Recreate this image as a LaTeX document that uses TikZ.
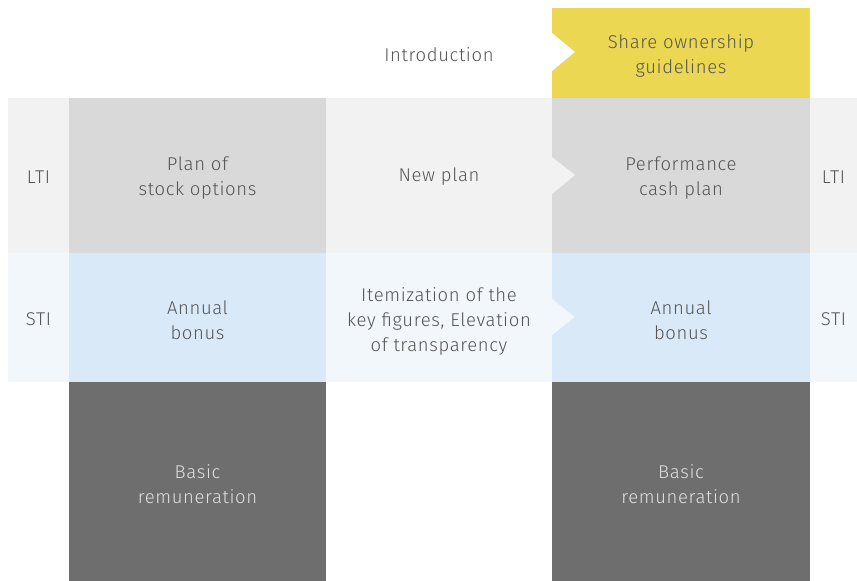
\documentclass[tikz,border=0pt]{standalone}
\usepackage{fontspec}
\setmainfont{Fira Sans}[UprightFont=* Light,LetterSpace=3.5]
\definecolor{ylw}{HTML}{EBD752}
\definecolor{bandgray}{HTML}{F2F2F2}
\definecolor{boxgray}{HTML}{D9D9D9}
\definecolor{bandblue}{HTML}{F2F7FC}
\definecolor{boxblue}{HTML}{DAE9F8}
\definecolor{darkbox}{HTML}{6E6E6E}
\definecolor{txt}{HTML}{555555}
\begin{document}
\begin{tikzpicture}[x=1pt,y=-1pt,
  blk/.style={draw=none,inner sep=0pt,outer sep=0pt,anchor=north west},
  lbl/.style={text=txt,font=\fontsize{18.5}{25}\selectfont,align=center,inner sep=0pt},
  wlbl/.style={lbl,text=white!88!black}]
\useasboundingbox (0,0) rectangle (857,581);
% bands
\fill[bandgray] (8,98) rectangle (857,253);
\fill[bandblue] (8,253) rectangle (857,382);
% boxes
\node[blk,fill=ylw,minimum width=258pt,minimum height=90pt] (sog) at (552,8) {};
\node[blk,fill=boxgray,minimum width=257pt,minimum height=155pt] (ltil) at (69,98) {};
\node[blk,fill=boxgray,minimum width=258pt,minimum height=155pt] (ltir) at (552,98) {};
\node[blk,fill=boxblue,minimum width=257pt,minimum height=129pt] (stil) at (69,253) {};
\node[blk,fill=boxblue,minimum width=258pt,minimum height=129pt] (stir) at (552,253) {};
\node[blk,fill=darkbox,minimum width=257pt,minimum height=199pt] (basl) at (69,382) {};
\node[blk,fill=darkbox,minimum width=258pt,minimum height=199pt] (basr) at (552,382) {};
% triangles
\fill[white] (552,33) -- (575,52) -- (552,71) -- cycle;
\fill[bandgray] (552,157) -- (575,175) -- (552,194) -- cycle;
\fill[bandblue] (552,299) -- (575,317) -- (552,335) -- cycle;
% texts
\node[lbl] (intro) at (439,55) {Introduction};
\node[lbl] at ([yshift=-3pt]sog.center) {Share ownership\\guidelines};
\node[lbl] (ltia) at (38.5,177) {LTI};
\node[lbl] (ltib) at (833.5,177) {LTI};
\node[lbl] (stia) at (38.5,319) {STI};
\node[lbl] (stib) at (833.5,319) {STI};
\node[lbl] at ([yshift=-3pt]ltil.center) {Plan of\\stock options};
\node[lbl] (np) at (439,177) {New plan};
\node[lbl] at ([yshift=-3pt]ltir.center) {Performance\\cash plan};
\node[lbl] at ([yshift=-3pt]stil.center) {Annual\\bonus};
\node[lbl] (item) at (439,321) {Itemization of the\\key figures, Elevation\\of transparency};
\node[lbl] at ([yshift=-3pt]stir.center) {Annual\\bonus};
\node[wlbl] at ([yshift=-3pt]basl.center) {Basic\\remuneration};
\node[wlbl] at ([yshift=-3pt]basr.center) {Basic\\remuneration};
\end{tikzpicture}
\end{document}
